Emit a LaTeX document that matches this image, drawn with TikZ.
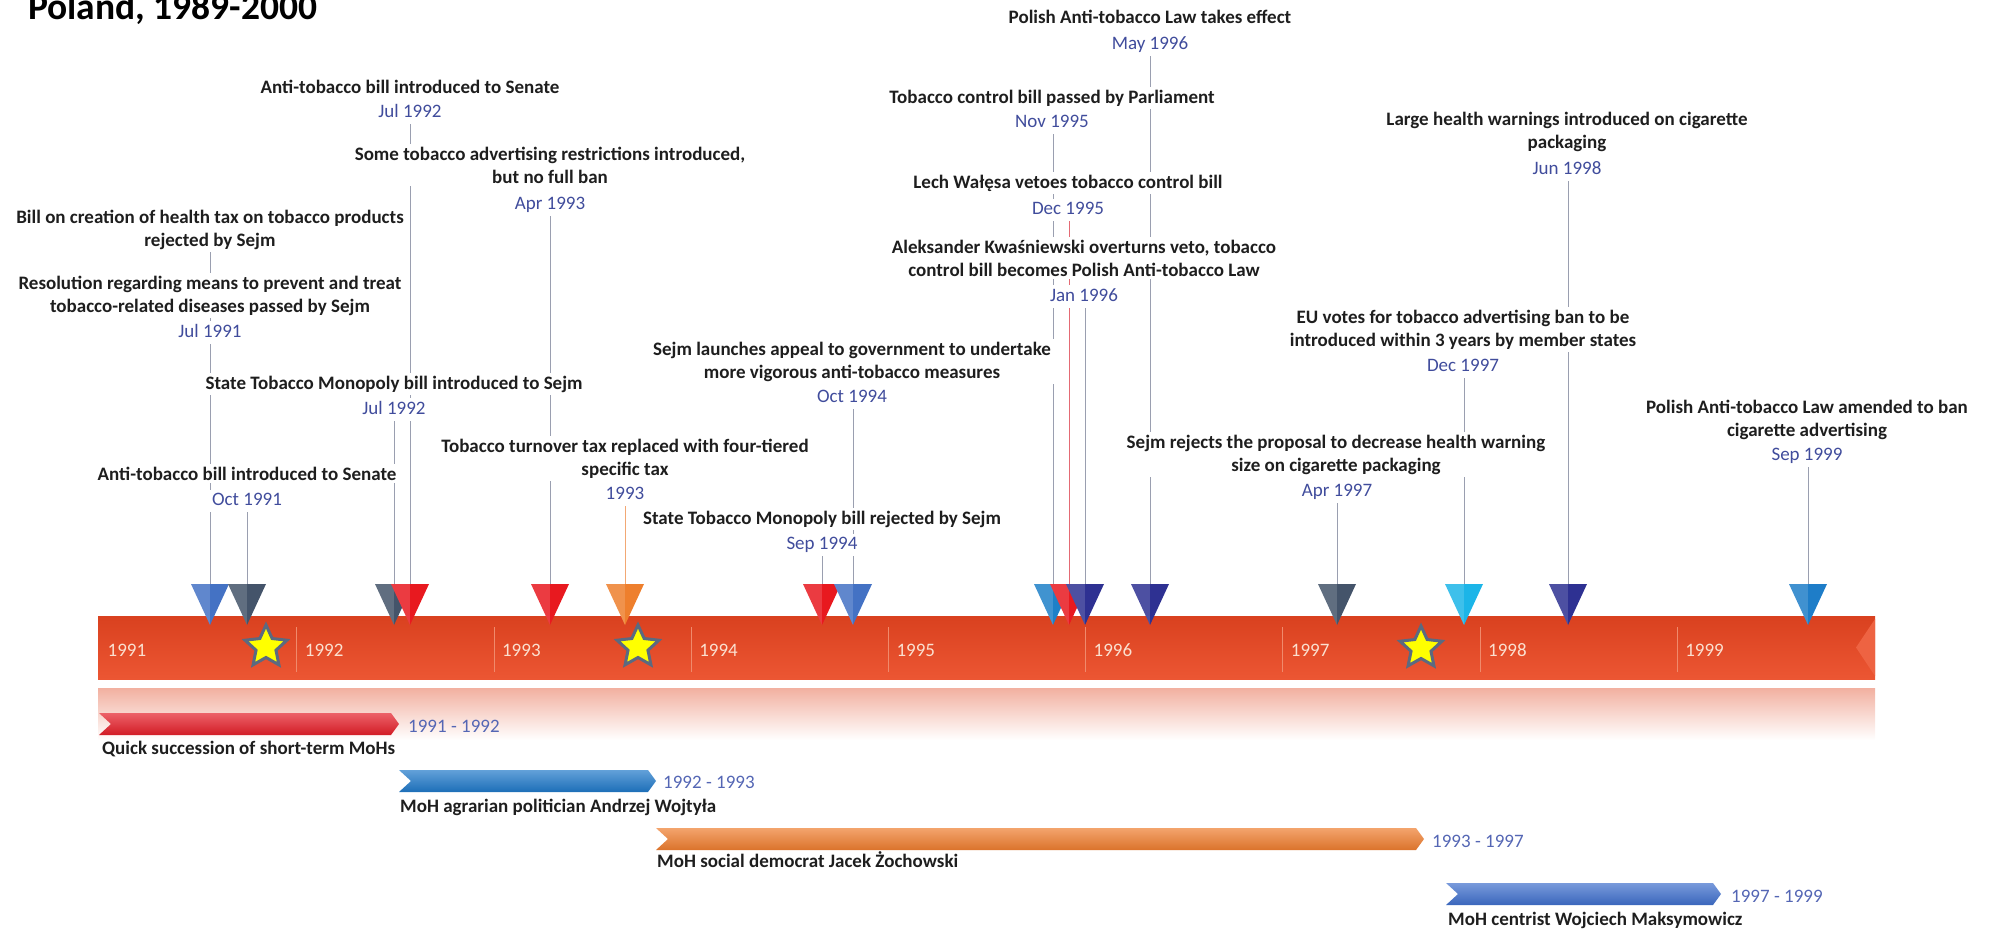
\documentclass[tikz,border=0pt]{standalone}
\usepackage{fontspec}
\setmainfont{Carlito}
\usetikzlibrary{shapes.geometric,backgrounds}
\definecolor{labtxt}{HTML}{1E1E1E}
\definecolor{datetxt}{HTML}{404C9C}
\definecolor{rangetxt}{HTML}{5466B4}
\definecolor{conngray}{HTML}{9A9FB0}
\definecolor{connred}{HTML}{E46A74}
\definecolor{connorange}{HTML}{F2A874}
\definecolor{yeartxt}{HTML}{FBE0D0}
\definecolor{barTop}{HTML}{D9411F}
\definecolor{barBot}{HTML}{EC5633}
\definecolor{barHi}{HTML}{EE6342}
\definecolor{divline}{HTML}{F08A6C}
\definecolor{reflTop}{HTML}{F2B0A0}
\definecolor{starY}{HTML}{FFFF00}
\definecolor{starB}{HTML}{5B6A80}
\definecolor{mBlue}{HTML}{4472C4}
\definecolor{mSlate}{HTML}{44546A}
\definecolor{mRed}{HTML}{E8191F}
\definecolor{mOrange}{HTML}{EE7F2D}
\definecolor{mCer}{HTML}{1E80C8}
\definecolor{mNavy}{HTML}{2E3192}
\definecolor{mCyan}{HTML}{1CB5E8}
\definecolor{mBlueB}{HTML}{1E7DC8}
\definecolor{bRed}{HTML}{E41E28}
\definecolor{bBlue}{HTML}{1F78C8}
\definecolor{bOrange}{HTML}{EE7D2F}
\definecolor{bBlueB}{HTML}{3F6FCC}
\newcommand\mkr[3]{%
  \coordinate (#1) at (#2,584);
  \fill[#3!85!white] (#2-19,584) -- (#2,584) -- (#2,625) -- cycle;
  \fill[#3] (#2,584) -- (#2+19,584) -- (#2,625) -- cycle;
}
\newcommand\mohbar[5]{%
  \shade[top color=#5!70!white, bottom color=#5!92!black] (#2,#4) -- (#3-8,#4) -- (#3,#4+11) -- (#3-8,#4+22) -- (#2,#4+22) -- (#2+12,#4+11) -- cycle;
  \coordinate (#1) at (#3,#4+11);
}
\begin{document}
\begin{tikzpicture}[x=1pt,y=-1pt,
  lab/.style={font=\bfseries\fontsize{19}{23}\selectfont, text=labtxt, align=center, fill=white, inner sep=3pt, anchor=base},
  dat/.style={font=\fontsize{19}{23}\selectfont, text=datetxt, fill=white, inner sep=3pt, anchor=base, text depth=4pt},
  conn/.style={draw=conngray, line width=1pt},
  yr/.style={font=\fontsize{19}{23}\selectfont, text=yeartxt, anchor=base west, inner sep=0pt},
  rng/.style={font=\fontsize{19}{23}\selectfont, text=rangetxt, anchor=base west, inner sep=0pt},
  moh/.style={font=\bfseries\fontsize{19}{23}\selectfont, text=labtxt, anchor=base west, inner sep=0pt},
  stardeco/.style={star, star points=5, star point ratio=2.1, minimum size=44pt, inner sep=0pt, fill=starY, draw=starB, line width=3pt}
]
\useasboundingbox (0,0) rectangle (1995,929);

% title
\node[font=\bfseries\fontsize{37.5}{40}\selectfont, anchor=base west, inner sep=0pt] (title) at (28,19) {Poland, 1989-2000};

% main bar
\shade[top color=barTop, bottom color=barBot] (98,616) rectangle (1875,679);
\fill[barHi] (1875,619) -- (1856,647.5) -- (1875,676) -- cycle;
\shade[top color=reflTop, bottom color=white] (98,688) rectangle (1875,740);
\foreach \k in {1,...,8} \draw[divline, line width=0.8pt] (99.5+197.2*\k,627) -- (99.5+197.2*\k,672);
\foreach \k/\yy in {0/1991,1/1992,2/1993,3/1994,4/1995,5/1996,6/1997,7/1998,8/1999}
  \node[yr] (y\yy) at (107.5+197.2*\k,656) {\yy};

% stars
\node[stardeco] (s1) at (266,647) {};
\node[stardeco] (s2) at (638,647) {};
\node[stardeco] (s3) at (1421,648) {};

% event labels (base anchor = last line baseline)
\node[lab] (L1a) at (210,246) {Bill on creation of health tax on tobacco products\\rejected by Sejm};
\node[lab] (L1b) at (210,312) {Resolution regarding means to prevent and treat\\tobacco-related diseases passed by Sejm};
\node[dat] (D1) at (210,337) {Jul 1991};
\node[lab] (L2) at (247,480) {Anti-tobacco bill introduced to Senate};
\node[dat] (D2) at (247,505) {Oct 1991};
\node[lab] (L3) at (394,389) {State Tobacco Monopoly bill introduced to Sejm};
\node[dat] (D3) at (394,414) {Jul 1992};
\node[lab] (L4) at (410,93) {Anti-tobacco bill introduced to Senate};
\node[dat] (D4) at (410,117) {Jul 1992};
\node[lab] (L5) at (550,183) {Some tobacco advertising restrictions introduced,\\but no full ban};
\node[dat] (D5) at (550,209) {Apr 1993};
\node[lab] (L6) at (625,475) {Tobacco turnover tax replaced with four-tiered\\specific tax};
\node[dat] (D6) at (625,499) {1993};
\node[lab] (L7) at (822,524) {State Tobacco Monopoly bill rejected by Sejm};
\node[dat] (D7) at (822,549) {Sep 1994};
\node[lab] (L8) at (852,378) {Sejm launches appeal to government to undertake\\more vigorous anti-tobacco measures};
\node[dat] (D8) at (852,402) {Oct 1994};
\node[lab] (L9) at (1052,103) {Tobacco control bill passed by Parliament};
\node[dat] (D9) at (1052,127) {Nov 1995};
\node[lab] (L10) at (1068,188) {Lech Wałęsa vetoes tobacco control bill};
\node[dat] (D10) at (1068,214) {Dec 1995};
\node[lab] (L11) at (1084,276) {Aleksander Kwaśniewski overturns veto, tobacco\\control bill becomes Polish Anti-tobacco Law};
\node[dat] (D11) at (1084,301) {Jan 1996};
\node[lab] (L12) at (1150,23) {Polish Anti-tobacco Law takes effect};
\node[dat] (D12) at (1150,49) {May 1996};
\node[lab] (L13) at (1336,471) {Sejm rejects the proposal to decrease health warning\\size on cigarette packaging};
\node[dat] (D13) at (1337,496) {Apr 1997};
\node[lab] (L14) at (1463,346) {EU votes for tobacco advertising ban to be\\introduced within 3 years by member states};
\node[dat] (D14) at (1463,371) {Dec 1997};
\node[lab] (L15) at (1567,148) {Large health warnings introduced on cigarette\\packaging};
\node[dat] (D15) at (1567,174) {Jun 1998};
\node[lab] (L16) at (1807,436) {Polish Anti-tobacco Law amended to ban\\cigarette advertising};
\node[dat] (D16) at (1807,460) {Sep 1999};

% markers
\mkr{M1}{210}{mBlue}
\mkr{M2}{247}{mSlate}
\mkr{M3}{394}{mSlate}
\mkr{M4}{410}{mRed}
\mkr{M5}{550}{mRed}
\mkr{M6}{625}{mOrange}
\mkr{M7}{822}{mRed}
\mkr{M8}{853}{mBlue}
\mkr{M9}{1053}{mCer}
\mkr{M10}{1069}{mRed}
\mkr{M11}{1085}{mNavy}
\mkr{M12}{1150}{mNavy}
\mkr{M13}{1337}{mSlate}
\mkr{M14}{1464}{mCyan}
\mkr{M15}{1568}{mNavy}
\mkr{M16}{1808}{mBlueB}

% connectors
\begin{pgfonlayer}{background}
\foreach \m/\d in {M1/L1a,M1/D1,M2/D2,M3/D3,M4/D4,M5/D5,M7/D7,M8/D8,M9/D9,M11/D11,M12/D12,M13/D13,M14/D14,M15/D15,M16/D16}
  \draw[conn] (\m |- \d.south) -- (\m);
\draw[conn, draw=connorange] (M6 |- D6.south) -- (M6);
\draw[conn, draw=connred] (M10 |- D10.south) -- (M10);
\end{pgfonlayer}

% ministers of health
\mohbar{B1}{99}{399}{713}{bRed}
\node[rng] (R1) at (408,732) {1991 - 1992};
\node[moh] (N1) at (102,754) {Quick succession of short-term MoHs};
\mohbar{B2}{399}{656}{770}{bBlue}
\node[rng] (R2) at (663,788) {1992 - 1993};
\node[moh] (N2) at (400,812) {MoH agrarian politician Andrzej Wojtyła};
\mohbar{B3}{656}{1424}{828}{bOrange}
\node[rng] (R3) at (1432,847) {1993 - 1997};
\node[moh] (N3) at (657,867) {MoH social democrat Jacek Żochowski};
\mohbar{B4}{1446}{1721}{883}{bBlueB}
\node[rng] (R4) at (1731,902) {1997 - 1999};
\node[moh] (N4) at (1448,925) {MoH centrist Wojciech Maksymowicz};
\end{tikzpicture}
\end{document}
